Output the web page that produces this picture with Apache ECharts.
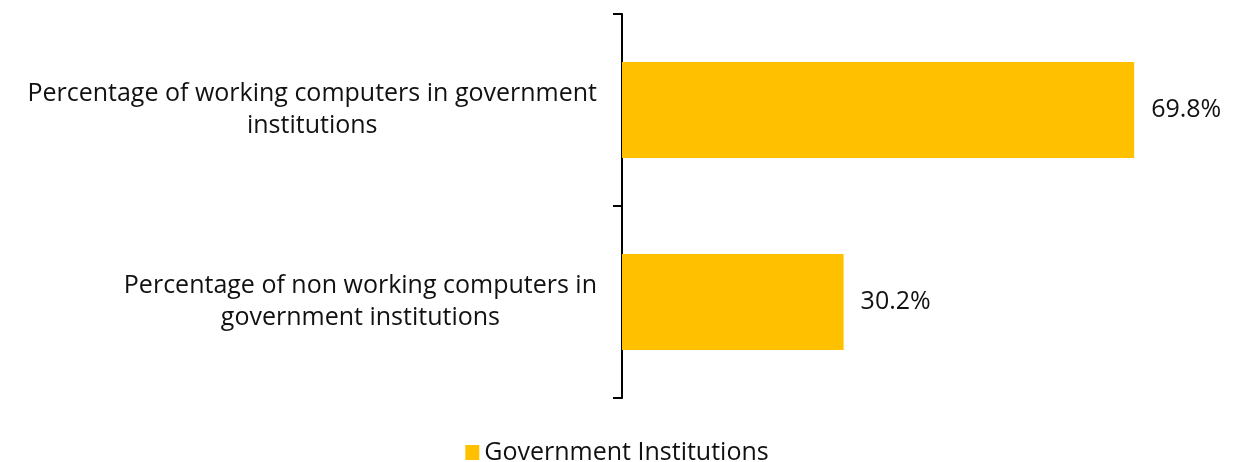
<!DOCTYPE html>
<html>
<head>
<meta charset="utf-8">
<script src="https://cdn.jsdelivr.net/npm/echarts@6/dist/echarts.min.js"></script>
<style>
  html, body { margin: 0; padding: 0; background: #fff; }
  #chart { width: 1234px; height: 462px; }
</style>
</head>
<body>
<div id="chart"></div>
<script>
// Categories (top to bottom), values in percent
const categories = [
  'Percentage of working computers in government\ninstitutions',
  'Percentage of non working computers in\ngovernment institutions'
];
const seriesName = 'Government Institutions';
const values = [69.8, 30.2];

const FONT = 'Open Sans';
const SIZE = 25;
const TEXT = '#111';

const chart = echarts.init(document.getElementById('chart'));
chart.setOption({
  animation: false,
  textStyle: { fontFamily: FONT },
  legend: {
    top: 435,
    left: 'center',
    icon: 'rect',
    itemWidth: 14,
    itemHeight: 15,
    itemGap: 6,
    textStyle: { fontSize: SIZE, color: TEXT, fontFamily: FONT },
    data: [seriesName]
  },
  grid: { left: 622, right: 25, top: 14, bottom: 64, containLabel: false },
  xAxis: {
    type: 'value',
    min: 0,
    max: 80,
    show: false
  },
  yAxis: {
    type: 'category',
    inverse: true,
    data: categories,
    axisLine: { show: true, lineStyle: { color: '#000', width: 2 } },
    axisTick: { show: true, length: 9, lineStyle: { color: '#000', width: 2 } },
    axisLabel: {
      margin: 25,
      color: TEXT,
      fontSize: SIZE,
      fontFamily: FONT,
      lineHeight: 32,
      formatter: v => v.split('\n').map(s => '{c|' + s + '}').join('\n'),
      rich: { c: { align: 'center', fontSize: SIZE, lineHeight: 32, color: TEXT, fontFamily: FONT } }
    }
  },
  series: [{
    name: seriesName,
    type: 'bar',
    data: values,
    barCategoryGap: '50%',
    itemStyle: { color: '#FFC000' },
    label: {
      show: true,
      position: 'right',
      distance: 17,
      formatter: '{c}%',
      fontSize: SIZE,
      color: TEXT,
      fontFamily: FONT
    }
  }]
});
</script>
</body>
</html>
